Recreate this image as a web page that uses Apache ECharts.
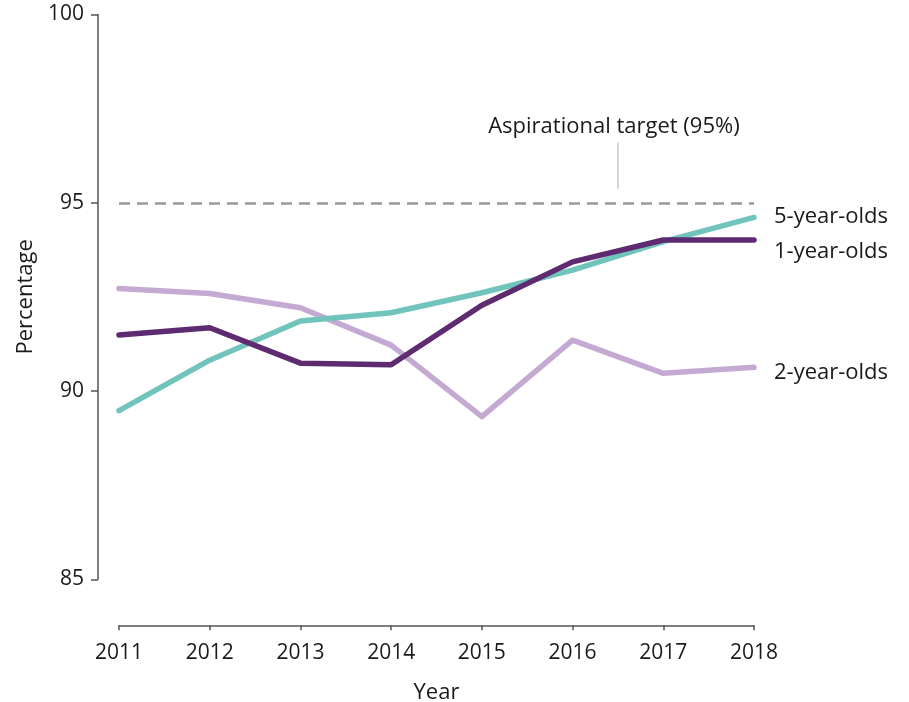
<!DOCTYPE html>
<html>
<head>
<meta charset="utf-8">
<script src="https://cdn.jsdelivr.net/npm/echarts@6/dist/echarts.min.js"></script>
<style>
  html, body { margin: 0; padding: 0; background: #fff; }
  #chart { width: 909px; height: 702px; }
</style>
</head>
<body>
<div id="chart"></div>
<script>
// data
const years = ['2011', '2012', '2013', '2014', '2015', '2016', '2017', '2018']
const fiveYearOlds = [89.48, 90.82, 91.86, 92.08, 92.61, 93.21, 93.97, 94.61]
const oneYearOlds = [91.49, 91.68, 90.74, 90.70, 92.28, 93.43, 94.01, 94.01]
const twoYearOlds = [92.72, 92.59, 92.21, 91.22, 89.32, 91.35, 90.47, 90.63]
const target = 95
const yTicks = [85, 90, 95, 100]

const font = '"Open Sans", Lato, sans-serif'
const textColor = '#1a1a1a'

const myChart = echarts.init(document.getElementById('chart'))

function lineSeries (name, data, color, labelDy) {
    return {
        name,
        type: 'line',
        data,
        symbol: 'none',
        smooth: false,
        lineStyle: { color, width: 5.5, cap: 'round', join: 'round' },
        itemStyle: { color },
        emphasis: { disabled: true },
        endLabel: {
            show: true,
            formatter: '{a}',
            color: textColor,
            fontFamily: font,
            fontSize: 22,
            distance: 20,
            offset: [0, labelDy]
        }
    }
}

const option = {
    animation: false,
    textStyle: { fontFamily: font },
    grid: {
        left: 119,
        right: 155,
        top: 14.5,
        bottom: 122.7,
        outerBoundsMode: 'none'
    },
    xAxis: {
        type: 'category',
        data: years,
        boundaryGap: false,
        offset: 46,
        name: 'Year',
        nameLocation: 'middle',
        nameGap: 56,
        nameTextStyle: { color: textColor, fontSize: 22, fontFamily: font },
        axisLine: { lineStyle: { color: '#555', width: 1.5 } },
        axisTick: { length: 5, lineStyle: { color: '#555', width: 1.5 } },
        axisLabel: { color: textColor, fontSize: 21, fontFamily: font, margin: 17 },
        splitLine: { show: false }
    },
    yAxis: {
        type: 'value',
        min: yTicks[0],
        max: yTicks[yTicks.length - 1],
        interval: 5,
        offset: 21,
        name: 'Percentage',
        nameLocation: 'middle',
        nameGap: 54,
        nameTextStyle: { color: textColor, fontSize: 22, fontFamily: font },
        axisLine: { show: true, lineStyle: { color: '#555', width: 1.5 } },
        axisTick: { show: true, length: 7, lineStyle: { color: '#555', width: 1.5 } },
        axisLabel: { color: textColor, fontSize: 21, fontFamily: font, margin: 14 },
        splitLine: { show: false }
    },
    series: [
        lineSeries('2-year-olds', twoYearOlds, '#c4aad3', 5),
        lineSeries('5-year-olds', fiveYearOlds, '#70c4bb', -1),
        Object.assign(lineSeries('1-year-olds', oneYearOlds, '#5e2a70', 12), {
            markLine: {
                silent: true,
                symbol: 'none',
                label: { show: false },
                lineStyle: { color: '#999', type: [11, 7], width: 2.5 },
                data: [{ yAxis: target }]
            }
        })
    ]
}

myChart.setOption(option)

// annotation for the target line, placed halfway between 2016 and 2017
const p16 = myChart.convertToPixel({ seriesIndex: 0 }, [5, target])
const p17 = myChart.convertToPixel({ seriesIndex: 0 }, [6, target])
const midX = (p16[0] + p17[0]) / 2
myChart.setOption({
    graphic: [
        {
            type: 'line',
            shape: { x1: midX, y1: p16[1] - 60, x2: midX, y2: p16[1] - 14 },
            style: { stroke: '#c8c8c8', lineWidth: 1.5 },
            silent: true
        },
        {
            type: 'text',
            x: midX - 4,
            y: p16[1] - 76,
            style: {
                text: 'Aspirational target (95%)',
                fill: textColor,
                font: '22px ' + font,
                textAlign: 'center',
                textVerticalAlign: 'middle'
            },
            silent: true
        }
    ]
})
</script>
</body>
</html>
